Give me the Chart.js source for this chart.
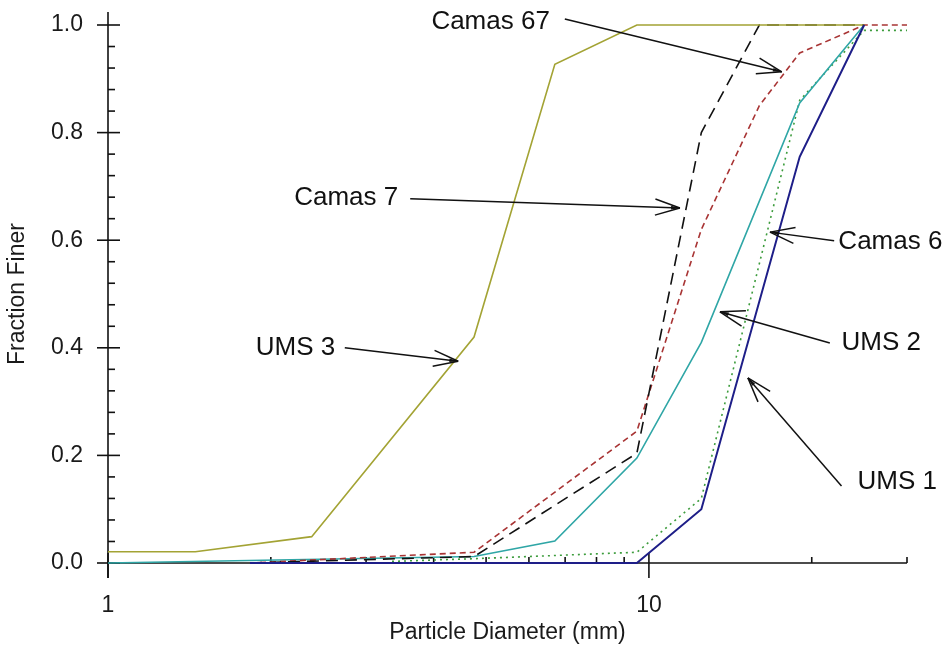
<!DOCTYPE html>
<html>
<head>
<meta charset="utf-8">
<script src="https://cdn.jsdelivr.net/npm/chart.js@4.4.1/dist/chart.umd.min.js"></script>
<style>
  html, body { margin: 0; padding: 0; background: #ffffff; }
  canvas { display: block; }
</style>
</head>
<body>
<canvas id="chart" width="951" height="650"></canvas>
<script>
// Grain-size distributions: sieve opening (mm) vs. fraction finer
const ums3X    = [1, 1.45, 2.38, 4.75, 6.7, 9.5, 25];
const ums3Y    = [0.021, 0.021, 0.049, 0.42, 0.927, 1.0, 1.0];
const camas67X = [1.83, 4.75, 9.5, 12.5, 16, 25];
const camas67Y = [0.0, 0.012, 0.204, 0.80, 1.0, 1.0];
const camas7X  = [1.83, 4.75, 9.5, 12.5, 16, 19, 25, 30];
const camas7Y  = [0.0, 0.02, 0.245, 0.62, 0.85, 0.948, 1.0, 1.0];
const ums2X    = [1, 4.75, 6.7, 9.5, 12.5, 19, 25];
const ums2Y    = [0.0, 0.012, 0.041, 0.195, 0.41, 0.855, 1.0];
const camas6X  = [3.35, 4.75, 9.5, 12.5, 19, 25, 30];
const camas6Y  = [0.003, 0.008, 0.02, 0.12, 0.86, 0.99, 0.99];
const ums1X    = [1.83, 9.5, 12.5, 19, 25];
const ums1Y    = [0.0, 0.0, 0.10, 0.755, 1.0];

// Axis ticks
const xMajorTicks = [1, 10];
const xMinorTicks = [2, 3, 4, 5, 6, 7, 8, 9, 20, 30];
const yMajorTicks = [0, 0.2, 0.4, 0.6, 0.8, 1.0];
const yMinorTicks = [0.04, 0.08, 0.12, 0.16, 0.24, 0.28, 0.32, 0.36, 0.44, 0.48, 0.52, 0.56,
                     0.64, 0.68, 0.72, 0.76, 0.84, 0.88, 0.92, 0.96];

// Callout labels: text anchor, arrow start and arrow tip (data coordinates)
const callouts = [
  { text: 'Camas 67', at: [6.56, 1.006], align: 'right', from: [6.99, 1.011], to: [17.6, 0.913] },
  { text: 'Camas 7',  at: [3.44, 0.678], align: 'right', from: [3.62, 0.677], to: [11.41, 0.660] },
  { text: 'UMS 3',    at: [2.63, 0.400], align: 'right', from: [2.74, 0.400], to: [4.44, 0.375] },
  { text: 'Camas 6',  at: [22.4, 0.597], align: 'left', from: [22.0, 0.599], to: [16.74, 0.615] },
  { text: 'UMS 2',    at: [22.7, 0.409], align: 'left',  from: [21.6, 0.409], to: [13.53, 0.467] },
  { text: 'UMS 1',    at: [24.3, 0.151], align: 'left',  from: [22.7, 0.143], to: [15.24, 0.344] }
];

const toPoints = (xs, ys) => xs.map((v, i) => ({ x: v, y: ys[i] }));

const FONT = '"Liberation Sans", Arial, sans-serif';

function seg(ctx, ax, ay, bx, by) {
  ctx.beginPath();
  ctx.moveTo(ax, ay);
  ctx.lineTo(bx, by);
  ctx.stroke();
}

// Axis lines with major (crossing) and minor (inward) tick marks
const axisMarks = {
  id: 'axisMarks',
  beforeDatasetsDraw(chart) {
    const { ctx, scales: { x, y } } = chart;
    const xl = x.getPixelForValue(x.min);
    const xr = x.getPixelForValue(x.max);
    const yb = y.getPixelForValue(0);
    const yt = y.getPixelForValue(1);
    ctx.save();
    ctx.strokeStyle = '#111111';
    ctx.lineWidth = 1.6;
    seg(ctx, xl, yt - 13, xl, yb + 15);
    seg(ctx, xl, yb, xr, yb);
    yMajorTicks.forEach(v => { const p = y.getPixelForValue(v); seg(ctx, xl - 11, p, xl + 12, p); });
    yMinorTicks.forEach(v => { const p = y.getPixelForValue(v); seg(ctx, xl, p, xl + 7, p); });
    xMajorTicks.forEach(v => { const p = x.getPixelForValue(v); seg(ctx, p, yb - 10, p, yb + 15); });
    xMinorTicks.forEach(v => { const p = x.getPixelForValue(v); seg(ctx, p, yb, p, yb - 6); });
    ctx.restore();
  }
};

// Text labels with arrows pointing at their curves
const calloutArrows = {
  id: 'calloutArrows',
  afterDatasetsDraw(chart) {
    const { ctx, scales: { x, y } } = chart;
    ctx.save();
    ctx.strokeStyle = '#111111';
    ctx.fillStyle = '#111111';
    ctx.lineWidth = 1.5;
    ctx.font = '26px ' + FONT;
    ctx.textBaseline = 'middle';
    callouts.forEach(c => {
      const sx = x.getPixelForValue(c.from[0]), sy = y.getPixelForValue(c.from[1]);
      const tx = x.getPixelForValue(c.to[0]),   ty = y.getPixelForValue(c.to[1]);
      seg(ctx, sx, sy, tx, ty);
      const ang = Math.atan2(sy - ty, sx - tx);
      const len = 26, spread = 18 * Math.PI / 180;
      seg(ctx, tx, ty, tx + len * Math.cos(ang + spread), ty + len * Math.sin(ang + spread));
      seg(ctx, tx, ty, tx + len * Math.cos(ang - spread), ty + len * Math.sin(ang - spread));
      ctx.beginPath();
      ctx.moveTo(tx, ty);
      ctx.lineTo(tx + 9 * Math.cos(ang + 0.2), ty + 9 * Math.sin(ang + 0.2));
      ctx.lineTo(tx + 9 * Math.cos(ang - 0.2), ty + 9 * Math.sin(ang - 0.2));
      ctx.closePath();
      ctx.fill();
      ctx.textAlign = c.align;
      ctx.fillText(c.text, x.getPixelForValue(c.at[0]), y.getPixelForValue(c.at[1]));
    });
    ctx.restore();
  }
};

const lineSet = (label, xs, ys, color, width, dash) => ({
  label,
  data: toPoints(xs, ys),
  borderColor: color,
  backgroundColor: color,
  borderWidth: width,
  borderDash: dash,
  pointRadius: 0,
  tension: 0,
  fill: false,
  clip: 6
});

new Chart(document.getElementById('chart'), {
  type: 'line',
  data: {
    datasets: [
      lineSet('UMS 1',    ums1X,    ums1Y,    '#1e1e88', 2,   []),
      lineSet('UMS 3',    ums3X,    ums3Y,    '#a3a334', 1.6, []),
      lineSet('Camas 67', camas67X, camas67Y, '#111111', 1.6, [12, 7]),
      lineSet('Camas 7',  camas7X,  camas7Y,  '#a83434', 1.6, [6, 4]),
      lineSet('UMS 2',    ums2X,    ums2Y,    '#2fa6a6', 1.6, []),
      lineSet('Camas 6',  camas6X,  camas6Y,  '#3c9c3c', 1.6, [2, 4])
    ]
  },
  options: {
    responsive: false,
    animation: false,
    layout: { padding: { left: 0, right: 44, top: 25, bottom: 0 } },
    plugins: { legend: { display: false }, tooltip: { enabled: false } },
    scales: {
      x: {
        type: 'logarithmic',
        min: 1,
        max: 30,
        afterFit: s => { s.height = 87; s.paddingLeft = 0; s.paddingRight = 0; },
        afterBuildTicks: s => { s.ticks = xMajorTicks.map(v => ({ value: v })); },
        grid: { display: false },
        border: { display: false },
        ticks: {
          color: '#1a1a1a',
          font: { family: FONT, size: 23 },
          padding: 21,
          maxRotation: 0,
          autoSkip: false,
          callback: v => String(v)
        },
        title: {
          display: true,
          text: 'Particle Diameter (mm)',
          color: '#1a1a1a',
          font: { family: FONT, size: 23 },
          padding: { top: 0, bottom: 4 }
        }
      },
      y: {
        type: 'linear',
        min: 0,
        max: 1,
        afterFit: s => { s.width = 108; s.paddingTop = 0; s.paddingBottom = 0; },
        afterBuildTicks: s => { s.ticks = yMajorTicks.map(v => ({ value: v })); },
        grid: { display: false },
        border: { display: false },
        ticks: {
          color: '#1a1a1a',
          font: { family: FONT, size: 23 },
          padding: 17,
          callback: v => Number(v).toFixed(1)
        },
        title: {
          display: true,
          text: 'Fraction Finer',
          color: '#1a1a1a',
          font: { family: FONT, size: 23 },
          padding: { top: 4, bottom: 0 }
        }
      }
    }
  },
  plugins: [axisMarks, calloutArrows]
});
</script>
</body>
</html>
